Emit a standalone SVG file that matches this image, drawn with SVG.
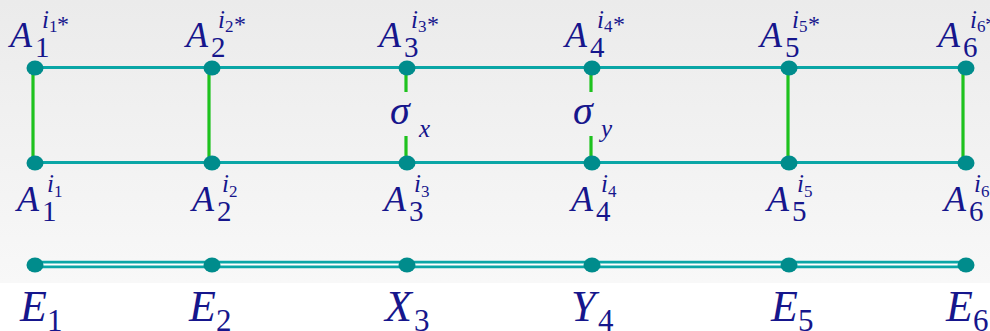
<svg xmlns="http://www.w3.org/2000/svg" width="990" height="331" viewBox="0 0 990 331" font-family="Times New Roman, Liberation Serif, serif">
<defs>
<linearGradient id="bg" x1="0" y1="0" x2="0" y2="1">
<stop offset="0" stop-color="#ebebeb"/>
<stop offset="1" stop-color="#f8f8f8"/>
</linearGradient>
</defs>
<rect x="0" y="0" width="990" height="331" fill="#ffffff"/>
<rect x="0" y="0" width="990" height="283" fill="url(#bg)"/>
<g id="connectors" fill="none">
<g stroke="#0aa6a6" stroke-width="3.2">
<line x1="34" y1="67.5" x2="966" y2="67.5"/>
<line x1="34" y1="162.5" x2="966" y2="162.5"/>
</g>
<line x1="34" y1="264.5" x2="966" y2="264.5" stroke="#0aa6a6" stroke-width="7.5"/>
<line x1="34" y1="264.5" x2="966" y2="264.5" stroke="#ffffff" stroke-width="1.8"/>
<g stroke="#1ec21e" stroke-width="3.2">
<line x1="33" y1="68" x2="33" y2="162"/>
<line x1="209" y1="68" x2="209" y2="162"/>
<line x1="406" y1="68" x2="406" y2="92"/>
<line x1="406" y1="136" x2="406" y2="162"/>
<line x1="591" y1="68" x2="591" y2="92"/>
<line x1="591" y1="136" x2="591" y2="162"/>
<line x1="788" y1="68" x2="788" y2="162"/>
<line x1="963" y1="68" x2="963" y2="162"/>
</g>
</g>
<g id="nodes" fill="#008c8c">
<ellipse cx="35" cy="68" rx="8.5" ry="7.5"/>
<ellipse cx="212" cy="68" rx="8.5" ry="7.5"/>
<ellipse cx="407" cy="68" rx="8.5" ry="7.5"/>
<ellipse cx="592" cy="68" rx="8.5" ry="7.5"/>
<ellipse cx="789" cy="68" rx="8.5" ry="7.5"/>
<ellipse cx="966" cy="68" rx="8.5" ry="7.5"/>
<ellipse cx="35" cy="163" rx="8.5" ry="7.5"/>
<ellipse cx="212" cy="163" rx="8.5" ry="7.5"/>
<ellipse cx="407" cy="163" rx="8.5" ry="7.5"/>
<ellipse cx="592" cy="163" rx="8.5" ry="7.5"/>
<ellipse cx="789" cy="163" rx="8.5" ry="7.5"/>
<ellipse cx="966" cy="163" rx="8.5" ry="7.5"/>
<ellipse cx="35" cy="265" rx="8.5" ry="7.5"/>
<ellipse cx="212" cy="265" rx="8.5" ry="7.5"/>
<ellipse cx="407" cy="265" rx="8.5" ry="7.5"/>
<ellipse cx="592" cy="265" rx="8.5" ry="7.5"/>
<ellipse cx="789" cy="265" rx="8.5" ry="7.5"/>
<ellipse cx="966" cy="265" rx="8.5" ry="7.5"/>
</g>
<g id="top-labels" fill="#16168c">
<text id="t1" font-family="Times New Roman, Liberation Serif, serif" font-size="36"><tspan x="10" y="47" font-style="italic">A</tspan><tspan x="35" y="57" font-size="29">1</tspan><tspan x="42" y="28" font-size="25" font-style="italic">i</tspan><tspan x="49" y="32" font-size="17">1</tspan><tspan x="57" y="32" font-size="24">*</tspan></text>
<text id="t2" font-family="Times New Roman, Liberation Serif, serif" font-size="36"><tspan x="186" y="47" font-style="italic">A</tspan><tspan x="211" y="57" font-size="29">2</tspan><tspan x="218" y="28" font-size="25" font-style="italic">i</tspan><tspan x="225" y="32" font-size="17">2</tspan><tspan x="234" y="32" font-size="24">*</tspan></text>
<text id="t3" font-family="Times New Roman, Liberation Serif, serif" font-size="36"><tspan x="379" y="47" font-style="italic">A</tspan><tspan x="404" y="57" font-size="29">3</tspan><tspan x="411" y="28" font-size="25" font-style="italic">i</tspan><tspan x="418" y="32" font-size="17">3</tspan><tspan x="427" y="32" font-size="24">*</tspan></text>
<text id="t4" font-family="Times New Roman, Liberation Serif, serif" font-size="36"><tspan x="565" y="47" font-style="italic">A</tspan><tspan x="590" y="57" font-size="29">4</tspan><tspan x="597" y="28" font-size="25" font-style="italic">i</tspan><tspan x="604" y="32" font-size="17">4</tspan><tspan x="613" y="32" font-size="24">*</tspan></text>
<text id="t5" font-family="Times New Roman, Liberation Serif, serif" font-size="36"><tspan x="760" y="47" font-style="italic">A</tspan><tspan x="785" y="57" font-size="29">5</tspan><tspan x="792" y="28" font-size="25" font-style="italic">i</tspan><tspan x="799" y="32" font-size="17">5</tspan><tspan x="808" y="32" font-size="24">*</tspan></text>
<text id="t6" font-family="Times New Roman, Liberation Serif, serif" font-size="36"><tspan x="938" y="47" font-style="italic">A</tspan><tspan x="963" y="57" font-size="29">6</tspan><tspan x="970" y="28" font-size="25" font-style="italic">i</tspan><tspan x="977" y="32" font-size="17">6</tspan><tspan x="985" y="32" font-size="24">*</tspan></text>
</g>
<g id="bottom-labels" fill="#16168c">
<text id="b1" font-family="Times New Roman, Liberation Serif, serif" font-size="36"><tspan x="17" y="211" font-style="italic">A</tspan><tspan x="42" y="221" font-size="29">1</tspan><tspan x="47" y="192" font-size="25" font-style="italic">i</tspan><tspan x="54" y="197" font-size="17">1</tspan></text>
<text id="b2" font-family="Times New Roman, Liberation Serif, serif" font-size="36"><tspan x="192" y="211" font-style="italic">A</tspan><tspan x="217" y="221" font-size="29">2</tspan><tspan x="222" y="192" font-size="25" font-style="italic">i</tspan><tspan x="229" y="197" font-size="17">2</tspan></text>
<text id="b3" font-family="Times New Roman, Liberation Serif, serif" font-size="36"><tspan x="384" y="211" font-style="italic">A</tspan><tspan x="409" y="221" font-size="29">3</tspan><tspan x="414" y="192" font-size="25" font-style="italic">i</tspan><tspan x="421" y="197" font-size="17">3</tspan></text>
<text id="b4" font-family="Times New Roman, Liberation Serif, serif" font-size="36"><tspan x="571" y="211" font-style="italic">A</tspan><tspan x="596" y="221" font-size="29">4</tspan><tspan x="601" y="192" font-size="25" font-style="italic">i</tspan><tspan x="608" y="197" font-size="17">4</tspan></text>
<text id="b5" font-family="Times New Roman, Liberation Serif, serif" font-size="36"><tspan x="767" y="211" font-style="italic">A</tspan><tspan x="792" y="221" font-size="29">5</tspan><tspan x="797" y="192" font-size="25" font-style="italic">i</tspan><tspan x="804" y="197" font-size="17">5</tspan></text>
<text id="b6" font-family="Times New Roman, Liberation Serif, serif" font-size="36"><tspan x="944" y="211" font-style="italic">A</tspan><tspan x="969" y="221" font-size="29">6</tspan><tspan x="974" y="192" font-size="25" font-style="italic">i</tspan><tspan x="981" y="197" font-size="17">6</tspan></text>
</g>
<g id="sigma-labels" fill="#16168c">
<text id="sx" font-family="Times New Roman, Liberation Serif, serif" font-size="40" font-style="italic"><tspan x="390" y="124">σ</tspan><tspan x="419" y="137" font-size="25">x</tspan></text>
<text id="sy" font-family="Times New Roman, Liberation Serif, serif" font-size="40" font-style="italic"><tspan x="573" y="124">σ</tspan><tspan x="601" y="137" font-size="25">y</tspan></text>
</g>
<g id="e-labels" fill="#16168c">
<text id="e1" font-family="Times New Roman, Liberation Serif, serif" font-size="44"><tspan x="20" y="321" font-style="italic">E</tspan><tspan x="47" y="331" font-size="31">1</tspan></text>
<text id="e2" font-family="Times New Roman, Liberation Serif, serif" font-size="44"><tspan x="189" y="321" font-style="italic">E</tspan><tspan x="216" y="331" font-size="31">2</tspan></text>
<text id="e3" font-family="Times New Roman, Liberation Serif, serif" font-size="44"><tspan x="385" y="321" font-style="italic">X</tspan><tspan x="414" y="331" font-size="31">3</tspan></text>
<text id="e4" font-family="Times New Roman, Liberation Serif, serif" font-size="44"><tspan x="571" y="321" font-style="italic">Y</tspan><tspan x="598" y="331" font-size="31">4</tspan></text>
<text id="e5" font-family="Times New Roman, Liberation Serif, serif" font-size="44"><tspan x="771" y="321" font-style="italic">E</tspan><tspan x="798" y="331" font-size="31">5</tspan></text>
<text id="e6" font-family="Times New Roman, Liberation Serif, serif" font-size="44"><tspan x="946" y="321" font-style="italic">E</tspan><tspan x="973" y="331" font-size="31">6</tspan></text>
</g>
</svg>
